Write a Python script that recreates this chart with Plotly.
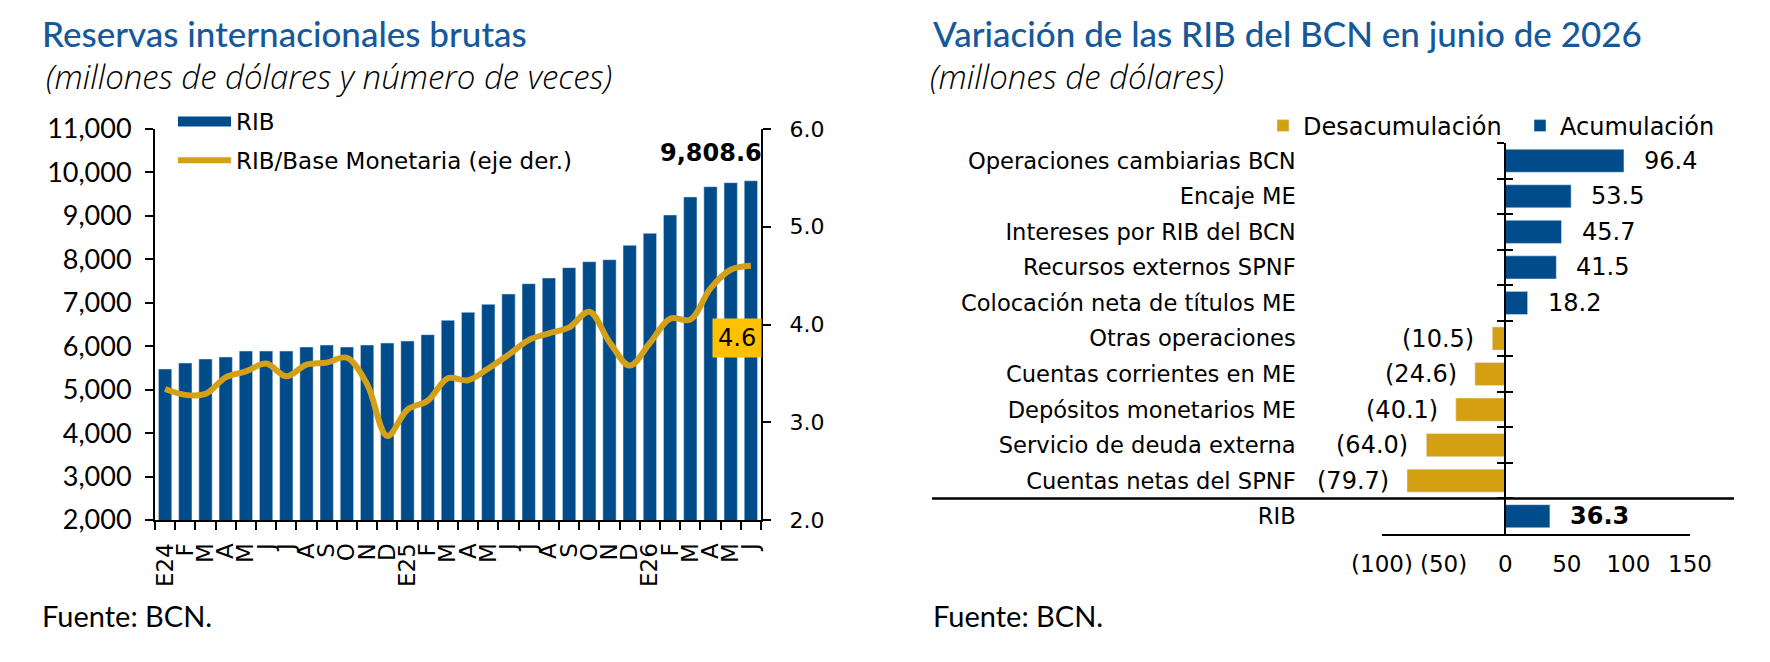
import plotly.graph_objects as go

# ---------------- data ----------------
meses = ['E24', 'F', 'M', 'A', 'M', 'J', 'J', 'A', 'S', 'O', 'N', 'D',
         'E25', 'F', 'M', 'A', 'M', 'J', 'J', 'A', 'S', 'O', 'N', 'D',
         'E26', 'F', 'M', 'A', 'M', 'J']
rib = [5476, 5614, 5706, 5752, 5890, 5890, 5890, 5982, 6028, 5982, 6028, 6074,
       6120, 6266, 6597, 6781, 6965, 7203, 7440, 7571, 7808, 7946, 7992, 8323,
       8599, 9021, 9436, 9673, 9765, 9808.6]
ratio = [3.34, 3.28, 3.29, 3.46, 3.52, 3.60, 3.47, 3.59, 3.61, 3.66, 3.39, 2.86,
         3.13, 3.22, 3.45, 3.43, 3.55, 3.69, 3.84, 3.91, 3.97, 4.13, 3.82, 3.58,
         3.81, 4.06, 4.05, 4.37, 4.56, 4.60]

categorias = ['Operaciones cambiarias BCN', 'Encaje ME', 'Intereses por RIB del BCN',
              'Recursos externos SPNF', 'Colocación neta de títulos ME', 'Otras operaciones',
              'Cuentas corrientes en ME', 'Depósitos monetarios ME',
              'Servicio de deuda externa', 'Cuentas netas del SPNF', 'RIB']
variacion = [96.4, 53.5, 45.7, 41.5, 18.2, -10.5, -24.6, -40.1, -64.0, -79.7, 36.3]
x_ticks = [-100, -50, 0, 50, 100, 150]

# ---------------- style ----------------
W, H = 1770, 662
AZUL = '#004C8A'
ORO = '#D4A017'
ORO_BAR = '#D4A012'
CAJA = '#FFC000'
TIT = '#15599B'
DV = 'DejaVu Sans'
LATO = 'Lato'
OS = 'Open Sans'


def px(x):
    return x / W


def py(y):
    return 1 - y / H


L_X = [px(155), px(761)]
L_Y = [py(520), py(129)]
R_X = [px(1382), px(1690)]
R_Y = [py(534), py(143)]
XR = [-100, 150]
zero_pos = R_X[0] + (0 - XR[0]) / (XR[1] - XR[0]) * (R_X[1] - R_X[0])

idx = list(range(len(meses)))

fig = go.Figure()

# left chart
fig.add_trace(go.Bar(x=idx, y=rib, marker_color=AZUL, width=0.66, showlegend=False,
                     xaxis='x', yaxis='y', name='RIB'))
fig.add_trace(go.Scatter(x=[None], y=[None], mode='lines', line=dict(color=AZUL, width=13),
                         name='RIB', legend='legend', legendgroup='a', xaxis='x', yaxis='y'))
fig.add_trace(go.Scatter(x=idx, y=ratio, mode='lines',
                         line=dict(color=ORO, width=6, shape='spline', smoothing=1.0),
                         name='RIB/Base Monetaria (eje der.)', legend='legend', legendgroup='b',
                         xaxis='x', yaxis='y2'))

# right chart (negatives on y3, positives on overlay y4 sharing the same categories)
neg_c = [c for c, v in zip(categorias, variacion) if v < 0]
neg_v = [v for v in variacion if v < 0]
pos_c = [c for c, v in zip(categorias, variacion) if v >= 0]
pos_v = [v for v in variacion if v >= 0]
fig.add_trace(go.Bar(x=neg_v, y=neg_c, orientation='h', marker_color=ORO_BAR, width=0.65,
                     name='Desacumulación', legend='legend2', xaxis='x2', yaxis='y3'))
fig.add_trace(go.Bar(x=pos_v, y=pos_c, orientation='h', marker_color=AZUL, width=0.65,
                     name='Acumulación', legend='legend2', xaxis='x2', yaxis='y4'))


def fmt(v):
    return f'{v:,.1f}' if v >= 0 else f'({-v:,.1f})'


annotations = []
for c, v in zip(categorias, variacion):
    t = fmt(v)
    if c == 'RIB':
        t = '<b>' + t + '</b>'
    annotations.append(dict(x=v, y=c, xref='x2', yref='y3', text=t, showarrow=False,
                            xanchor='left' if v >= 0 else 'right',
                            xshift=18 if v >= 0 else -16,
                            font=dict(family=DV, size=24, color='black')))

# left annotations
annotations.append(dict(x=idx[-1], y=rib[-1], xref='x', yref='y', text='<b>' + f'{rib[-1]:,.1f}' + '</b>',
                        showarrow=False, xanchor='right', yanchor='bottom', xshift=13, yshift=12,
                        font=dict(family=DV, size=24, color='black')))
annotations.append(dict(x=idx[-1], y=ratio[-1], xref='x', yref='y2', text=f'{ratio[-1]:.1f}',
                        showarrow=False, xanchor='right', yanchor='top', xshift=11, yshift=-52,
                        bgcolor=CAJA, borderpad=5,
                        font=dict(family=DV, size=24, color='black')))

# titles and notes
for x0, txt in [(40, 'Reservas internacionales brutas'),
                (931, 'Variación de las RIB del BCN en junio de 2026')]:
    annotations.append(dict(x=px(x0), y=py(33), xref='paper', yref='paper', text=txt,
                            showarrow=False, xanchor='left', yanchor='middle',
                            font=dict(family=LATO, size=35, color=TIT, weight=500)))
for x0, txt in [(44, '(millones de dólares y número de veces)'),
                (928, '(millones de dólares)')]:
    annotations.append(dict(x=px(x0), y=py(77), xref='paper', yref='paper', text=txt,
                            showarrow=False, xanchor='left', yanchor='middle',
                            font=dict(family=OS, size=33, color='black', style='italic', weight=300)))
for x0 in [40, 931]:
    annotations.append(dict(x=px(x0), y=py(615), xref='paper', yref='paper', text='Fuente: BCN.',
                            showarrow=False, xanchor='left', yanchor='middle',
                            font=dict(family=LATO, size=29, color='black')))

n = len(categorias)
cat_axis = dict(type='category', categoryarray=categorias, categoryorder='array',
                range=[n - 0.5, -0.5], anchor='free', position=zero_pos, tickson='boundaries',
                ticklen=7, tickwidth=1.5, tickcolor='black', showgrid=False, zeroline=False)

fig.update_layout(
    width=W, height=H, margin=dict(l=0, r=0, t=0, b=0, pad=0, autoexpand=False),
    paper_bgcolor='white', plot_bgcolor='white',
    barmode='relative',
    font=dict(family=DV, color='black'),
    xaxis=dict(domain=L_X, anchor='y', range=[-0.5, len(meses) - 0.5],
               tickmode='array', tickvals=idx, ticktext=meses, tickangle=-90,
               ticks='', showline=True, linecolor='black', linewidth=2, showgrid=False,
               zeroline=False, tickfont=dict(family=DV, size=23), ticklabelstandoff=12,
               minor=dict(tickmode='linear', tick0=-0.5, dtick=1, ticks='outside', ticklen=8,
                          tickwidth=1.5, tickcolor='black', showgrid=False)),
    yaxis=dict(domain=L_Y, anchor='x', range=[2000, 11000], tickmode='linear', tick0=2000, dtick=1000,
               tickformat=',', ticks='outside', ticklen=8, tickwidth=1.5, tickcolor='black',
               showline=True, linecolor='black', linewidth=2, showgrid=False, zeroline=False,
               tickfont=dict(family=LATO, size=27), ticklabelstandoff=8),
    yaxis2=dict(overlaying='y', anchor='x', side='right', range=[2, 6], tickmode='linear', tick0=2, dtick=1,
                tickformat='.1f', ticks='outside', ticklen=8, tickwidth=1.5, tickcolor='black',
                showline=True, linecolor='black', linewidth=2, showgrid=False, zeroline=False,
                tickfont=dict(family=DV, size=22), ticklabelstandoff=14),
    xaxis2=dict(domain=R_X, anchor='y3', range=XR, tickmode='array', tickvals=x_ticks,
                ticktext=[fmt(v).replace('.0', '') if v != 0 else '0' for v in x_ticks],
                ticks='', showline=True, linecolor='black', linewidth=2, showgrid=False, zeroline=False,
                tickfont=dict(family=DV, size=23), ticklabelstandoff=8),
    yaxis3=dict(domain=R_Y, ticks='outside', showline=True, linecolor='black', linewidth=2,
                tickfont=dict(family=DV, size=22.6), ticklabelstandoff=204, **cat_axis),
    yaxis4=dict(overlaying='y3', ticks='inside', showline=False, showticklabels=False, **cat_axis),
    legend=dict(x=px(173), y=py(100), xanchor='left', yanchor='top', orientation='v',
                traceorder='grouped', tracegroupgap=6, bgcolor='rgba(0,0,0,0)',
                font=dict(family=DV, size=23), itemwidth=53),
    legend2=dict(x=px(1263), y=py(126), xanchor='left', yanchor='middle', orientation='h',
                 bgcolor='rgba(0,0,0,0)', font=dict(family=DV, size=24), itemwidth=30,
                 entrywidth=212, entrywidthmode='pixels'),
    annotations=annotations,
    shapes=[dict(type='line', xref='paper', yref='y3', x0=px(932), x1=px(1734),
                 y0=n - 1.5, y1=n - 1.5, line=dict(color='black', width=2.5))],
)

fig.write_html('out.html')
